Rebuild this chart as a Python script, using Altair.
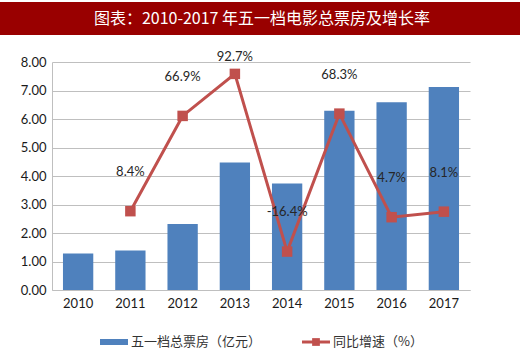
import altair as alt
import pandas as pd

years = ["2010", "2011", "2012", "2013", "2014", "2015", "2016", "2017"]
box_office = [1.28, 1.39, 2.32, 4.47, 3.74, 6.29, 6.59, 7.12]
growth = [None, 0.084, 0.669, 0.927, -0.164, 0.683, 0.047, 0.081]
growth_labels = ["", "8.4%", "66.9%", "92.7%", "-16.4%", "68.3%", "4.7%", "8.1%"]

title_text = "图表：2010-2017 年五一档电影总票房及增长率"
legend_bar = "五一档总票房（亿元）"
legend_line = "同比增速（%）"

df = pd.DataFrame({"year": years, "value": box_office, "growth": growth, "label": growth_labels})

W, H = 418, 228
FONT = "Lato"
BLUE = "#4F81BD"
RED = "#C0504D"
TXT = "#1a1a1a"

x = alt.X("year:N", sort=years, title=None,
          scale=alt.Scale(paddingInner=0.42, paddingOuter=0.21),
          axis=alt.Axis(labelAngle=0, ticks=False, domainColor="#BFBFBF",
                        labelFont=FONT, labelFontSize=13, labelColor=TXT, labelPadding=7))

bars = alt.Chart(df).mark_bar(color=BLUE).encode(
    x=x,
    y=alt.Y("value:Q", title=None,
            scale=alt.Scale(domain=[0, 8]),
            axis=alt.Axis(values=[0, 1, 2, 3, 4, 5, 6, 7, 8], format=".2f", ticks=False,
                          domainColor="#BFBFBF", gridColor="#BFBFBF", grid=True,
                          labelFont=FONT, labelFontSize=13, labelColor=TXT, labelPadding=6)),
)

gdf = df[df["growth"].notna()]
yg = alt.Y("growth:Q", title=None,
           scale=alt.Scale(domain=[-0.4, 1.0]),
           axis=alt.Axis(orient="right", values=[-0.4, -0.2, 0, 0.2, 0.4, 0.6, 0.8, 1.0],
                         format=".2f", grid=False, ticks=True, tickSize=5, tickColor="#BFBFBF",
                         domainColor="#BFBFBF", labelFont=FONT, labelFontSize=13,
                         labelColor=TXT, labelPadding=4))

line = alt.Chart(gdf).mark_line(color=RED, strokeWidth=3).encode(x=x, y=yg)
pts = alt.Chart(gdf).mark_point(shape="square", filled=True, color=RED, size=110, opacity=1).encode(
    x=x, y=alt.Y("growth:Q", scale=alt.Scale(domain=[-0.4, 1.0]), axis=None))
labels = alt.Chart(gdf).transform_calculate(
    ly="min(datum.growth + 0.24, 1.03)"
).mark_text(font=FONT, fontSize=13, color="#262626", baseline="middle").encode(
    x=x, y=alt.Y("ly:Q", scale=alt.Scale(domain=[-0.4, 1.0]), axis=None), text="label:N")

line_layer = alt.layer(line, pts, labels)

one = df.head(1)

# title band
band = alt.Chart(one).mark_rect(color="#990000").encode(
    x=alt.value(-52), x2=alt.value(468), y=alt.value(-60), y2=alt.value(-27))
title = alt.Chart(one).mark_text(
    text=title_text, font="Noto Sans CJK SC", fontSize=16, fontWeight="normal", color="white",
    align="center", baseline="middle").encode(x=alt.value(210), y=alt.value(-43))

# legend (below plot area)
leg_rect = alt.Chart(one).mark_rect(color=BLUE).encode(
    x=alt.value(48), x2=alt.value(76), y=alt.value(H + 49), y2=alt.value(H + 55))
leg_text1 = alt.Chart(one).mark_text(
    text=legend_bar, font="Noto Sans CJK SC", fontSize=13, color="#333", align="left",
    baseline="middle").encode(x=alt.value(79), y=alt.value(H + 52))
leg_line = alt.Chart(one).mark_rule(color=RED, strokeWidth=3).encode(
    x=alt.value(250), x2=alt.value(278), y=alt.value(H + 52))
leg_pt = alt.Chart(one).mark_point(shape="square", filled=True, color=RED, size=60, opacity=1).encode(
    x=alt.value(264), y=alt.value(H + 52))
leg_text2 = alt.Chart(one).mark_text(
    text=legend_line, font="Noto Sans CJK SC", fontSize=13, color="#333", align="left",
    baseline="middle").encode(x=alt.value(281), y=alt.value(H + 52))

main = alt.layer(bars, line_layer).resolve_scale(y="independent")

chart = alt.layer(band, title, main, leg_rect, leg_text1, leg_line, leg_pt, leg_text2).properties(
    width=W, height=H,
    padding={"left": 52, "top": 62, "right": 50, "bottom": 64},
    autosize=alt.AutoSizeParams(type="none"),
    background="white",
).configure_view(stroke=None)

chart.save("out.html", embed_options={"renderer": "svg", "actions": False})
